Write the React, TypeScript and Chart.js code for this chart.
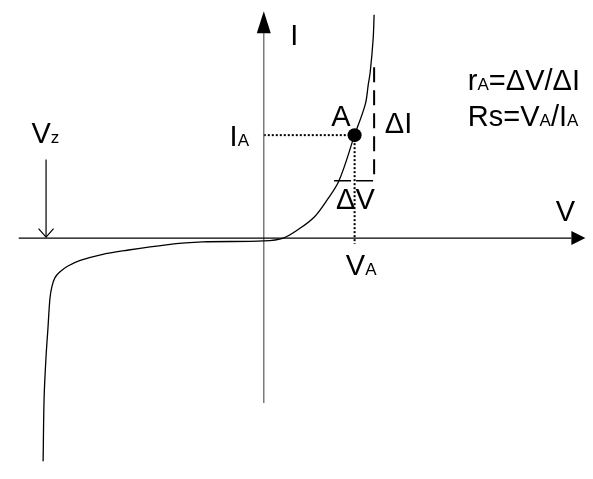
import React, { useEffect, useRef } from "react";
import { Chart, registerables } from "chart.js";

Chart.register(...registerables);

// Diode characteristic curve (V, I in drawing units)
const curveV = [-22.6, -22.5, -22.3, -22.1, -21.9, -21.7, -21.4, -20.9, -20.1, -18.8, -16.6, -14.3, -10.0, -6.3, 0, 2.0, 3.7, 5.2, 6.4, 7.7, 9.3, 10.4, 10.7, 10.9, 11.2, 11.3];
const curveI = [-23.0, -16.5, -12.2, -9.2, -6.2, -5.0, -4.1, -3.5, -2.9, -2.3, -1.7, -1.3, -0.7, -0.4, -0.3, 0, 1.0, 2.2, 3.8, 5.9, 10.6, 13.8, 15.8, 17.1, 20.5, 23.0];

// Operating point A
const pointA = { v: 9.3, i: 10.6 };
// Delta construction
const deltaTopI = 17.6;
const deltaBottomI = 5.9;
const deltaRightV = 11.3;
const deltaLeftV = 7.2;
// Axes extents (arrowhead bases)
const axisVMin = -25.1;
const axisVMax = 31.5;
const axisIMin = -17.0;
const axisIMax = 21.1;
// Zener marker
const vzV = -22.3;
const vzTopI = 8.1;

// Labels: text with _sub_ markers, anchor (left, baseline)
const labelTexts = ["I", "V", "V_z", "I_A", "A", "ΔI", "ΔV", "V_A", "r_A_=ΔV/ΔI", "Rs=V_A_/I_A"];
const labelV = [2.7, 29.9, -23.8, -3.5, 6.9, 12.4, 7.4, 8.4, 20.9, 20.9];
const labelI = [19.9, 1.8, 9.8, 9.5, 11.5, 10.8, 3.0, -3.8, 15.3, 11.5];

const FONT = '"Liberation Sans", Arial, sans-serif';
const BIG = 29;
const SMALL = 17;

const seg = (a: [number, number][]) => a.map(([x, y]) => ({ x, y }));

export default function App() {
  const ref = useRef<HTMLCanvasElement | null>(null);
  useEffect(() => {
    if (!ref.current) return;
    const overlay = {
      id: "overlay",
      afterDatasetsDraw(chart: any) {
        const ctx = chart.ctx as CanvasRenderingContext2D;
        const xs = chart.scales.x;
        const ys = chart.scales.y;
        const px = (v: number) => xs.getPixelForValue(v);
        const py = (i: number) => ys.getPixelForValue(i);
        ctx.save();
        // V axis arrowhead (filled)
        const hx = px(axisVMax);
        const hy = py(0);
        ctx.fillStyle = "#000";
        ctx.beginPath();
        ctx.moveTo(hx + 14, hy);
        ctx.lineTo(hx, hy - 7);
        ctx.lineTo(hx, hy + 7);
        ctx.closePath();
        ctx.fill();
        // I axis arrowhead (filled)
        const vx = px(0);
        const vy = py(axisIMax);
        ctx.beginPath();
        ctx.moveTo(vx, vy - 22);
        ctx.lineTo(vx - 7, vy);
        ctx.lineTo(vx + 7, vy);
        ctx.closePath();
        ctx.fill();
        // Vz open arrowhead
        const zx = px(vzV);
        const zy = py(0) - 1;
        ctx.strokeStyle = "#000";
        ctx.lineWidth = 1.2;
        ctx.beginPath();
        ctx.moveTo(zx - 7.5, zy - 8.5);
        ctx.lineTo(zx, zy);
        ctx.lineTo(zx + 7.5, zy - 8.5);
        ctx.stroke();
        // Labels
        ctx.fillStyle = "#000";
        ctx.textBaseline = "alphabetic";
        ctx.textAlign = "left";
        labelTexts.forEach((t, k) => {
          let x = px(labelV[k]);
          const y = py(labelI[k]);
          const parts = t.split("_");
          parts.forEach((p, j) => {
            if (!p) return;
            ctx.font = `${j % 2 === 1 ? SMALL : BIG}px ${FONT}`;
            ctx.fillText(p, x, y);
            x += ctx.measureText(p).width;
          });
        });
        ctx.restore();
      },
    };
    const line = (data: any[], extra: any = {}) => ({
      data,
      showLine: true,
      borderColor: "#000",
      borderWidth: 1.2,
      pointRadius: 0,
      fill: false,
      ...extra,
    });
    const chart = new Chart(ref.current, {
      type: "scatter",
      data: {
        datasets: [
          line(curveV.map((v, k) => ({ x: v, y: curveI[k] })), { tension: 0.35, borderWidth: 1.3 }),
          line(seg([[axisVMin, 0], [axisVMax, 0]]), { borderWidth: 1.3 }),
          line(seg([[0, axisIMin], [0, axisIMax]]), { borderColor: "#666", borderWidth: 1.3 }),
          line(seg([[0, pointA.i], [pointA.v, pointA.i]]), { borderWidth: 2, borderDash: [2, 2] }),
          line(seg([[pointA.v, pointA.i], [pointA.v, -0.6]]), { borderWidth: 2, borderDash: [2, 2] }),
          line(seg([[deltaRightV, deltaTopI], [deltaRightV, deltaBottomI]]), { borderWidth: 2, borderDash: [15, 8] }),
          line(seg([[deltaLeftV, deltaBottomI], [deltaRightV, deltaBottomI]]), { borderWidth: 1.5, borderDash: [17, 5] }),
          line(seg([[vzV, vzTopI], [vzV, 0.1]]), { borderWidth: 1.2 }),
          {
            data: [{ x: pointA.v, y: pointA.i }],
            showLine: false,
            pointRadius: 7,
            pointBackgroundColor: "#000",
            pointBorderColor: "#000",
            pointBorderWidth: 0,
          },
        ],
      },
      options: {
        animation: false,
        responsive: false,
        maintainAspectRatio: false,
        layout: { padding: 0 },
        plugins: { legend: { display: false }, tooltip: { enabled: false } },
        events: [],
        scales: {
          x: { type: "linear", display: false, min: -26.3, max: 33.0 },
          y: { type: "linear", display: false, min: -24.1, max: 23.8 },
        },
      },
      plugins: [overlay],
    } as any);
    return () => chart.destroy();
  }, []);
  return (
    <div style={{ position: "absolute", left: 0, top: 0, width: 593, height: 479, background: "#fff" }}>
      <canvas ref={ref} width={593} height={479} style={{ display: "block" }} />
    </div>
  );
}
